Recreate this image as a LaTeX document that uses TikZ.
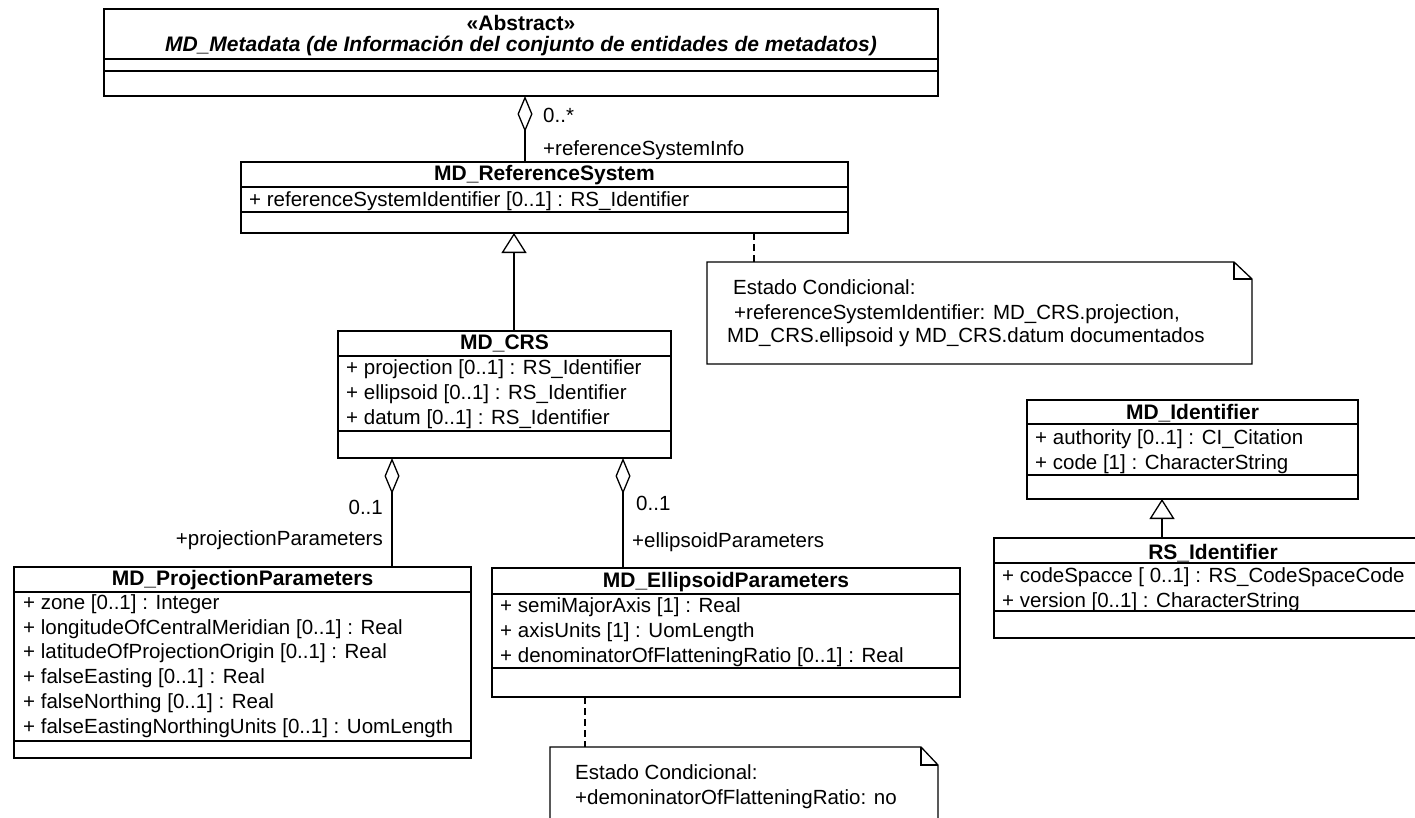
\documentclass[tikz,border=0pt]{standalone}
\usepackage{fontspec}
\setmainfont{Liberation Sans}
\usetikzlibrary{arrows.meta,calc}
\newcommand\umlfs{\fontsize{20.5}{24.7}\selectfont}
\newcommand\umlfb{\fontsize{21}{25}\selectfont\bfseries}
\begin{document}
\begin{tikzpicture}[x=1pt,y=-1pt,
  cls/.style={draw, line width=1.3pt, anchor=north west, inner sep=0pt, outer sep=0pt},
  notebox/.style={anchor=north west, inner sep=0pt, outer sep=0pt},
  ttl/.style={font=\umlfb, anchor=base, inner sep=0pt},
  attr/.style={font=\umlfs, anchor=base west, inner sep=0pt},
  lbl/.style={font=\umlfs, inner sep=0pt},
  div/.style={line width=1.3pt},
  conn/.style={line width=1.3pt},
  dsh/.style={line width=1.3pt, dash pattern=on 7pt off 4pt},
  agg/.style={conn, {Diamond[open,length=36pt,width=15pt]}-},
  gen/.style={conn, -{Triangle[open,length=20pt,width=25pt]}},
]
\fill[white] (0,0) rectangle (1415,817);
\useasboundingbox (0,0) rectangle (1415,817);

% MD_Metadata
\node[cls, minimum width=834pt, minimum height=87pt] (meta) at (104,9) {};
\draw[div] ($(meta.north west)+(0,50)$) -- ($(meta.north east)+(0,50)$);
\draw[div] ($(meta.north west)+(0,62)$) -- ($(meta.north east)+(0,62)$);
\node[ttl] (metaS) at (521,30) {«Abstract»};
\node[ttl, font=\umlfb\itshape] (metaN) at (521,51) {MD\_Metadata (de Información del conjunto de entidades de metadatos)};

% MD_ReferenceSystem
\node[cls, minimum width=607pt, minimum height=71pt] (refsys) at (241,162) {};
\draw[div] ($(refsys.north west)+(0,25)$) -- ($(refsys.north east)+(0,25)$);
\draw[div] ($(refsys.north west)+(0,50)$) -- ($(refsys.north east)+(0,50)$);
\node[ttl] (refsysT) at (544.5,180) {MD\_ReferenceSystem};
\node[attr] (refsysA) at (249,206) {+ referenceSystemIdentifier [0..1] : RS\_Identifier};

% MD_CRS
\node[cls, minimum width=333pt, minimum height=127pt] (crs) at (338,331) {};
\draw[div] ($(crs.north west)+(0,25)$) -- ($(crs.north east)+(0,25)$);
\draw[div] ($(crs.north west)+(0,100)$) -- ($(crs.north east)+(0,100)$);
\node[ttl] (crsT) at (504.5,349) {MD\_CRS};
\node[attr] (crsA1) at (346,374) {+ projection [0..1] : RS\_Identifier};
\node[attr] (crsA2) at (346,399) {+ ellipsoid [0..1] : RS\_Identifier};
\node[attr] (crsA3) at (346,424) {+ datum [0..1] : RS\_Identifier};

% MD_ProjectionParameters
\node[cls, minimum width=457pt, minimum height=191pt] (proj) at (14,567) {};
\draw[div] ($(proj.north west)+(0,25)$) -- ($(proj.north east)+(0,25)$);
\draw[div] ($(proj.north west)+(0,174)$) -- ($(proj.north east)+(0,174)$);
\node[ttl] (projT) at (242.5,585) {MD\_ProjectionParameters};
\node[attr] (projA1) at (23,609.5) {+ zone [0..1] : Integer};
\node[attr] (projA2) at (23,634.2) {+ longitudeOfCentralMeridian [0..1] : Real};
\node[attr] (projA3) at (23,658.9) {+ latitudeOfProjectionOrigin [0..1] : Real};
\node[attr] (projA4) at (23,683.6) {+ falseEasting [0..1] : Real};
\node[attr] (projA5) at (23,708.3) {+ falseNorthing [0..1] : Real};
\node[attr] (projA6) at (23,733) {+ falseEastingNorthingUnits [0..1] : UomLength};

% MD_EllipsoidParameters
\node[cls, minimum width=468pt, minimum height=129pt] (ell) at (492,568) {};
\draw[div] ($(ell.north west)+(0,26)$) -- ($(ell.north east)+(0,26)$);
\draw[div] ($(ell.north west)+(0,100)$) -- ($(ell.north east)+(0,100)$);
\node[ttl] (ellT) at (726,587) {MD\_EllipsoidParameters};
\node[attr] (ellA1) at (500,612) {+ semiMajorAxis [1] : Real};
\node[attr] (ellA2) at (500,637) {+ axisUnits [1] : UomLength};
\node[attr] (ellA3) at (500,662) {+ denominatorOfFlatteningRatio [0..1] : Real};

% MD_Identifier
\node[cls, minimum width=331pt, minimum height=99pt] (mdid) at (1027,400) {};
\draw[div] ($(mdid.north west)+(0,24)$) -- ($(mdid.north east)+(0,24)$);
\draw[div] ($(mdid.north west)+(0,75)$) -- ($(mdid.north east)+(0,75)$);
\node[ttl] (mdidT) at (1192.5,419) {MD\_Identifier};
\node[attr] (mdidA1) at (1035,444) {+ authority [0..1] : CI\_Citation};
\node[attr] (mdidA2) at (1035,469) {+ code [1] : CharacterString};

% RS_Identifier
\node[cls, minimum width=438pt, minimum height=100pt] (rsid) at (994,538) {};
\draw[div] ($(rsid.north west)+(0,25)$) -- ($(rsid.north east)+(0,25)$);
\draw[div] ($(rsid.north west)+(0,73)$) -- ($(rsid.north east)+(0,73)$);
\node[ttl] (rsidT) at (1213,559) {RS\_Identifier};
\node[attr] (rsidA1) at (1002,582) {+ codeSpacce [ 0..1] : RS\_CodeSpaceCode};
\node[attr] (rsidA2) at (1002,607) {+ version [0..1] : CharacterString};

% Note 1
\node[notebox, minimum width=545pt, minimum height=102pt] (note1) at (707,262) {};
\draw[conn] (note1.north west) -- ($(note1.north east)+(-18,0)$) -- ($(note1.north east)+(0,17)$) -- (note1.south east) -- (note1.south west) -- cycle;
\draw[conn] ($(note1.north east)+(-18,0)$) -- ($(note1.north east)+(-18,17)$) -- ($(note1.north east)+(0,17)$);
\node[attr] (n1a) at (733,294) {Estado Condicional:};
\node[attr] (n1b) at (734,319) {+referenceSystemIdentifier: MD\_CRS.projection,};
\node[attr] (n1c) at (727,342) {MD\_CRS.ellipsoid y MD\_CRS.datum documentados};

% Note 2
\node[notebox, minimum width=388pt, minimum height=80pt] (note2) at (550,747) {};
\draw[conn] (note2.south west) -- (note2.north west) -- ($(note2.north east)+(-17,0)$) -- ($(note2.north east)+(0,18)$) -- (note2.south east);
\draw[conn] ($(note2.north east)+(-17,0)$) -- ($(note2.north east)+(-17,18)$) -- ($(note2.north east)+(0,18)$);
\node[attr] (n2a) at (575,779) {Estado Condicional:};
\node[attr] (n2b) at (575,804) {+demoninatorOfFlatteningRatio: no};

% Connectors
\coordinate (xa) at (525,0);
\coordinate (xg) at (514,0);
\coordinate (xn1) at (754,0);
\coordinate (xp) at (392,0);
\coordinate (xe) at (623,0);
\coordinate (xn2) at (585,0);
\coordinate (xi) at (1162,0);

\draw[agg] (meta.south -| xa) -- (refsys.north -| xa);
\draw[gen] (crs.north -| xg) -- (refsys.south -| xg);
\draw[dsh] (refsys.south -| xn1) -- (note1.north -| xn1);
\draw[agg] (crs.south -| xp) -- (proj.north -| xp);
\draw[agg] (crs.south -| xe) -- (ell.north -| xe);
\draw[dsh] (ell.south -| xn2) -- (note2.north -| xn2);
\draw[gen] (rsid.north -| xi) -- (mdid.south -| xi);

% Role labels
\node[lbl, anchor=base west] (l1) at (543,122) {0..*};
\node[lbl, anchor=base west] (l2) at (543,155) {+referenceSystemInfo};
\node[lbl, anchor=base east] (l3) at (383,514) {0..1};
\node[lbl, anchor=base east] (l4) at (383,545) {+projectionParameters};
\node[lbl, anchor=base west] (l5) at (636,510) {0..1};
\node[lbl, anchor=base west] (l6) at (632,547) {+ellipsoidParameters};
\end{tikzpicture}
\end{document}
